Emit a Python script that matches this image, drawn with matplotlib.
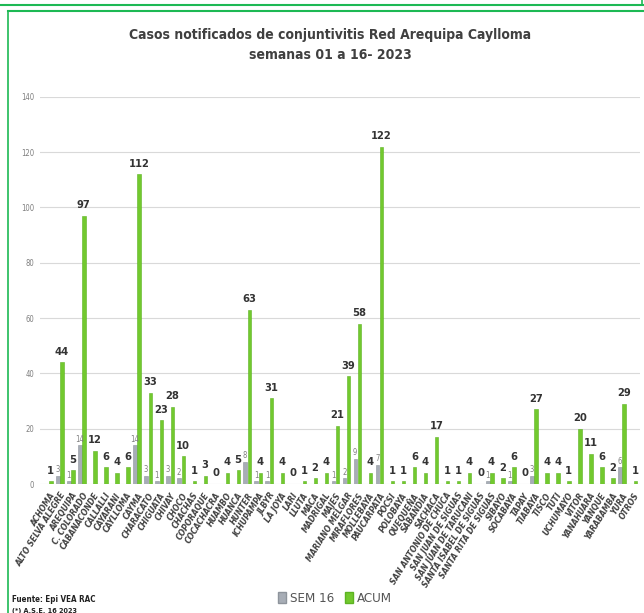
import matplotlib
matplotlib.use('Agg')
import matplotlib.pyplot as plt
import matplotlib.patches as mpatches
import numpy as np

# ==========================================
# DATA
# ==========================================
distritos = [
    'ACHOMA', 'ALTO SELVA ALEGRE', 'AREQUIPA', 'C. COLORADO', 'CABANACONDE',
    'CALLALLI', 'CAYARANI', 'CAYLLOMA', 'CAYMA', 'CHARACATO', 'CHIGUATA',
    'CHIVAY', 'CHOCO', 'CHACHAS', 'COPORAQUE', 'COCACHACRA', 'HUAMBO',
    'HUANCA', 'HUNTER', 'ICHUPAMPA', 'JLBYR', 'LA JOYA', 'LARI', 'LLUTA',
    'MACA', 'MADRIGAL', 'MAJES', 'MARIANO MELGAR', 'MIRAFLORES', 'MOLLEBAYA',
    'PAUCARPATA', 'POCSI', 'POLOBAYA', 'QUEQUEÑA', 'SABANDIA', 'SACHACA',
    'SAN ANTONIO DE CHUCA', 'SAN JUAN DE SIGUAS', 'SAN JUAN DE TARUCANI',
    'SANTA ISABEL DE SIGUAS', 'SANTA RITA DE SIGUAS', 'SIBAYO', 'SOCABAYA',
    'TAPAY', 'TIABAYA', 'TISCO', 'TUTI', 'UCHUMAYO', 'VITOR', 'YANAHUARA',
    'YANQUE', 'YARABAMBA', 'YURA', 'OTROS',
]
sem16 = [0, 3, 1, 14, 0, 0, 0, 0, 14, 3, 1, 3, 2, 0, 0, 0, 0, 0, 8, 1,
         1, 0, 0, 0, 0, 0, 1, 2, 9, 0, 7, 0, 0, 0, 0, 0, 0, 0, 0, 0,
         1, 0, 1, 0, 3, 0, 0, 0, 0, 0, 0, 0, 6, 0]
acum = [1, 44, 5, 97, 12, 6, 4, 6, 112, 33, 23, 28, 10, 1, 3, 0, 4, 5, 63, 4,
        31, 4, 0, 1, 2, 4, 21, 39, 58, 4, 122, 1, 1, 6, 4, 17, 1, 1, 4, 0,
        4, 2, 6, 0, 27, 4, 4, 1, 20, 11, 6, 2, 29, 1]

GREEN = '#72C92E'
GREY = '#A7ADB6'
FRAME = '#1DB954'

# condensed DejaVu face for the narrow look of the original
plt.rcParams['font.family'] = ['DejaVu Sans']
plt.rcParams['font.stretch'] = 'condensed'

fig = plt.figure(figsize=(6.44, 6.13), dpi=100)
ax = fig.add_axes([0.062, 0.2104, 0.932, 0.6316])

x = np.arange(len(distritos))
w = 0.3
ax.bar(x - 0.22, sem16, width=w + 0.05, color=GREY, edgecolor='#8E949C', linewidth=0.4, zorder=3)
ax.bar(x + 0.15, acum, width=w, color=GREEN, edgecolor='#5DB323', linewidth=0.4, zorder=3)

for i in range(len(distritos)):
    ax.text(x[i] + 0.12, acum[i] + 2.0, str(acum[i]), ha='center', va='bottom',
            fontsize=8, fontweight='bold', color='#333333')
    if sem16[i] > 0:
        ax.text(x[i] - 0.25, sem16[i] + 0.6, str(sem16[i]), ha='center', va='bottom',
                fontsize=5.5, color='#7F7F7F')

ax.set_ylim(0, 140)
ax.set_xlim(-0.85, len(distritos) - 0.4)
ax.set_yticks(range(0, 141, 20))
ax.tick_params(axis='y', labelsize=5.5, labelcolor='#7F7F7F', length=0, pad=4)
ax.set_xticks(x)
ax.set_xticklabels(distritos, rotation=58, ha='right', rotation_mode='anchor',
                   fontsize=5.5, fontweight='bold', fontstyle='italic', color='#404040',
                   fontstretch='normal')
ax.tick_params(axis='x', length=0, pad=5)
ax.grid(axis='y', color='#D9D9D9', linewidth=0.8, zorder=0)
for s in ax.spines.values():
    s.set_visible(False)

fig.text(0.513, 0.955, 'Casos notificados de conjuntivitis Red Arequipa Caylloma\nsemanas 01 a 16- 2023',
         ha='center', va='top', fontsize=10, fontweight='bold', color='#404040', linespacing=1.55)

# legend
handles = [mpatches.Patch(facecolor=GREY, edgecolor='#8E949C', label='SEM 16'),
           mpatches.Patch(facecolor=GREEN, edgecolor='#5DB323', label='ACUM')]
fig.legend(handles=handles, loc='center', bbox_to_anchor=(0.52, 0.023), ncol=2, frameon=False,
           fontsize=9.5, handlelength=0.6, handleheight=0.9, handletextpad=0.3, columnspacing=0.8,
           labelcolor='#555555')

fig.text(0.019, 0.022, 'Fuente: Epi VEA RAC', fontsize=5.8, fontweight='bold', color='#222222', va='center')
fig.text(0.019, 0.004, '(*) A.S.E. 16 2023', fontsize=5.2, fontweight='bold', color='#222222', va='center')

# green frame lines
H = 613.0
fig.add_artist(plt.Line2D([0, 1], [1 - 5 / H, 1 - 5 / H], color=FRAME, linewidth=1.5))
fig.add_artist(plt.Line2D([0.013, 1], [1 - 10.5 / H, 1 - 10.5 / H], color=FRAME, linewidth=1.5))
fig.add_artist(plt.Line2D([0.013, 0.013], [0, 1 - 10.5 / H], color=FRAME, linewidth=1.2))
fig.add_artist(plt.Line2D([0.997, 0.997], [1 - 5 / H, 1], color=FRAME, linewidth=1.2))

fig.savefig('out.png', dpi=100)
